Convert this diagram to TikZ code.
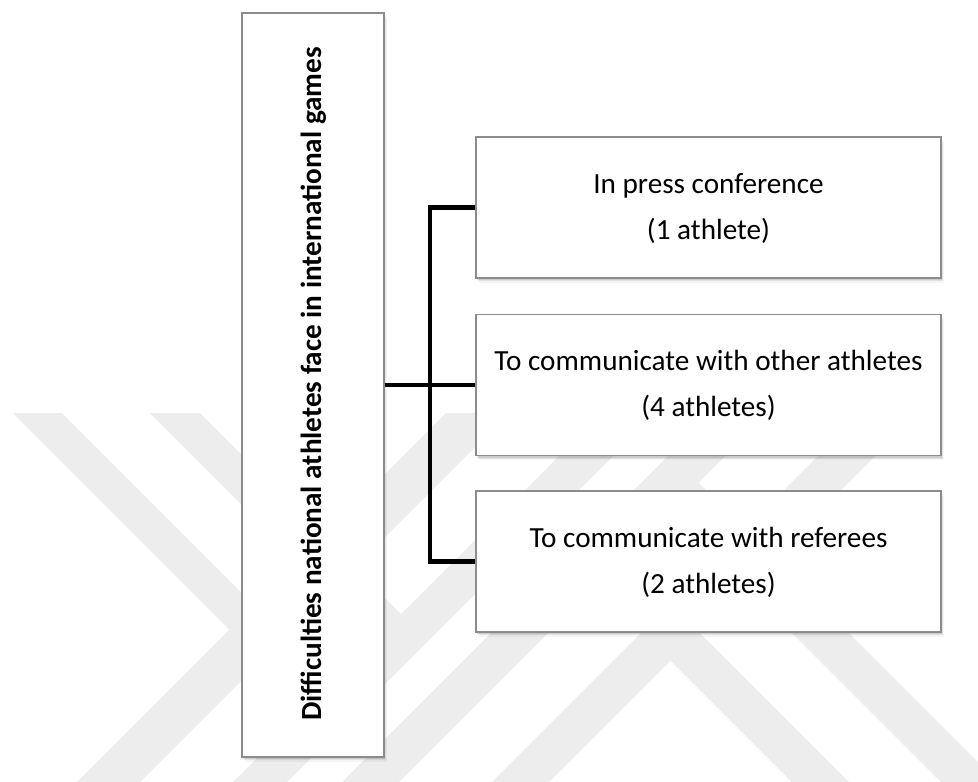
\documentclass[tikz,border=0pt]{standalone}
\usepackage{fontspec}
\setmainfont{Carlito}
\definecolor{wmark}{gray}{0.93}
\definecolor{boxline}{gray}{0.55}
\begin{document}
\begin{tikzpicture}[x=1pt,y=-1pt,
  card/.style={rectangle, draw=boxline, line width=1.1pt, fill=white, inner sep=0pt,
    preaction={fill=black, opacity=0.10, transform canvas={xshift=1.2pt,yshift=-2pt}},
    preaction={fill=black, opacity=0.07, transform canvas={xshift=2.2pt,yshift=-3.2pt}},
    preaction={fill=black, opacity=0.04, transform canvas={xshift=3.2pt,yshift=-4.5pt}}},
  sidebox/.style={card, minimum width=465pt, minimum height=141pt},
  boxtext/.style={inner sep=0pt, anchor=base,
    font=\fontsize{29.2}{46}\selectfont},
  wire/.style={line width=4.6pt, draw=black, line join=miter},
  band/.style={fill=wmark, draw=none}]

% page
\fill[white] (0,0) rectangle (978,782);
\useasboundingbox (0,0) rectangle (978,782);

% faint diagonal watermark bands
\fill[band] (77,782) -- (140,782) -- (509,413) -- (446,413) -- cycle;
\fill[band] (13,413) -- (62,413) -- (269.5,620.5) -- (245,645) -- cycle;
\fill[band] (233,782) -- (287,782) -- (656,413) -- (602,413) -- cycle;
\fill[band] (150,413) -- (200,413) -- (414.5,627.5) -- (389.5,652.5) -- cycle;
\fill[band] (342,782) -- (399,782) -- (768,413) -- (711,413) -- cycle;
\fill[band] (492,782) -- (549,782) -- (918,413) -- (861,413) -- cycle;
\fill[band] (684,468) -- (998,782) -- (941,782) -- (655.5,496.5) -- cycle;
\fill[band] (684.5,617.5) -- (849,782) -- (792,782) -- (656,646) -- cycle;

% boxes
\node[card, minimum width=142pt, minimum height=744pt] (main) at (313,385) {};
\node[sidebox] (b1) at (708.5,207.5) {};
\node[sidebox] (b2) at (708.5,385) {};
\node[sidebox] (b3) at (708.5,561.5) {};

% texts
\node[inner sep=0pt, anchor=base, rotate=90,
  font=\bfseries\fontsize{29.2}{35}\selectfont] (title) at (321.5,384)
  {Difficulties national athletes face in international games};
\node[boxtext] (t1) at (708.5,193.5)
  {\begin{tabular}[t]{@{}c@{}}In press conference\\(1 athlete)\end{tabular}};
\node[boxtext] (t2) at (708.5,370.5)
  {\begin{tabular}[t]{@{}c@{}}To communicate with other athletes\\(4 athletes)\end{tabular}};
\node[boxtext] (t3) at (708.5,547.5)
  {\begin{tabular}[t]{@{}c@{}}To communicate with referees\\(2 athletes)\end{tabular}};

% connectors
\coordinate (spine) at (430,385);
\draw[wire] (b1.west) -| (spine) |- (b3.west);
\draw[wire] (main.east) -- (b2.west);
\end{tikzpicture}
\end{document}
